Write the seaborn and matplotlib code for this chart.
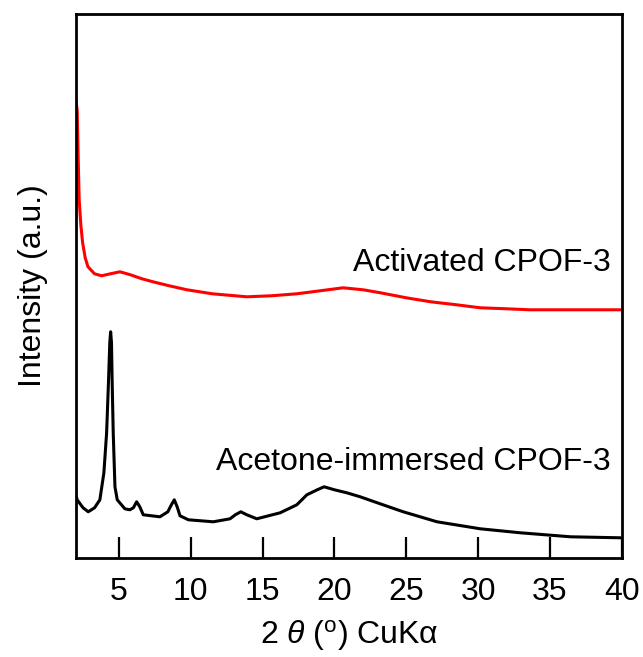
import numpy as np
import pandas as pd
import matplotlib
matplotlib.use("Agg")
import matplotlib.pyplot as plt
import seaborn as sns

# 読み取った値 (2θ, 強度 任意単位)
activated_2theta = [2.02, 2.09, 2.16, 2.23, 2.35, 2.47, 2.65, 2.84, 3.3, 3.79, 4.4, 5.07, 5.8,
                    6.6, 7.37, 8.5, 9.74, 11.5, 13.9, 15.6, 17.38, 19.0, 20.6, 22.0, 23.2,
                    25.0, 26.7, 28.5, 30.15, 32.0, 33.6, 36.0, 38.0, 39.9]
activated_int = [455, 448, 400, 358, 332, 315, 300, 291, 284, 282, 284, 286, 283,
                 279, 276, 272, 268, 264, 261, 262, 264, 267, 270, 268, 265,
                 260, 256, 253, 250, 249, 248, 248, 248, 248]

immersed_2theta = [2.02, 2.09, 2.5, 2.86, 3.3, 3.67, 3.95, 4.14, 4.28, 4.36, 4.42, 4.48,
                   4.52, 4.60, 4.72, 4.88, 5.41, 5.76, 6.0, 6.23, 6.45, 6.69, 7.85, 8.4,
                   8.65, 8.85, 9.05, 9.25, 9.83, 11.57, 12.73, 13.1, 13.48, 13.9, 14.59,
                   16.22, 17.38, 18.08, 18.8, 19.28, 20.0, 20.86, 21.79, 23.18, 24.79,
                   27.14, 30.15, 32.94, 36.43, 39.91]
immersed_int = [62, 58, 50, 46, 50, 58, 85, 125, 180, 215, 226, 215,
                180, 125, 71, 58, 49, 48, 50, 56, 51, 43, 41, 46,
                53, 58, 51, 42, 38, 36, 39, 43, 46, 43, 39,
                45, 53, 63, 68, 71, 68, 65, 61, 54, 46,
                36, 29, 25, 21, 20]

labels = ["Activated CPOF-3", "Acetone-immersed CPOF-3"]
colors = ["#ff0000", "black"]

df = pd.concat([
    pd.DataFrame({"two_theta": activated_2theta, "intensity": activated_int, "sample": labels[0]}),
    pd.DataFrame({"two_theta": immersed_2theta, "intensity": immersed_int, "sample": labels[1]}),
])

sns.set_style("ticks")
plt.rcParams["font.family"] = ["Liberation Sans", "DejaVu Sans"]
plt.rcParams["mathtext.fontset"] = "custom"
plt.rcParams["mathtext.rm"] = "Liberation Sans"
plt.rcParams["mathtext.it"] = "Liberation Sans:italic"
plt.rcParams["text.color"] = "black"
plt.rcParams["axes.labelcolor"] = "black"
plt.rcParams["xtick.color"] = "black"

fig = plt.figure(figsize=(6.43, 6.57), dpi=100)
ax = fig.add_axes([0.118, 0.151, 0.849, 0.828])

sns.lineplot(data=df, x="two_theta", y="intensity", hue="sample",
             palette=dict(zip(labels, colors)), sort=False, estimator=None,
             linewidth=2.2, legend=False, ax=ax)

ax.set_xlim(2, 40)
ax.set_ylim(0, 544)
ax.set_xticks(range(5, 41, 5))
ax.set_yticks([])
ax.tick_params(axis="x", direction="in", length=15, width=1.6, pad=14, labelsize=23)
for sp in ax.spines.values():
    sp.set_linewidth(2)
    sp.set_color("black")

ax.set_xlabel(r"2 $\theta$ ($^{\mathrm{o}}$) CuKα", fontsize=23, labelpad=8)
ax.set_ylabel("Intensity (a.u.)", fontsize=23, labelpad=20)

# サンプル名ラベル
ax.text(39.2, 295, labels[0], fontsize=23, ha="right", va="center")
ax.text(39.2, 96, labels[1], fontsize=23, ha="right", va="center")

fig.savefig("out.png", dpi=100)
